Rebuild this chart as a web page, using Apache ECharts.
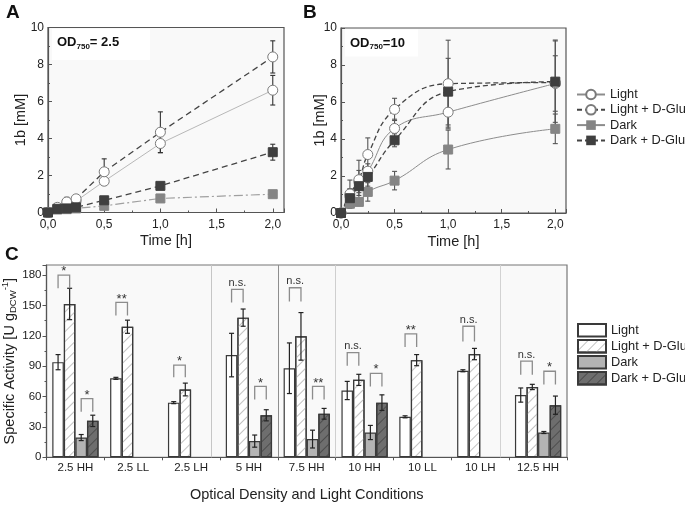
<!DOCTYPE html>
<html><head><meta charset="utf-8">
<script src="https://cdn.jsdelivr.net/npm/echarts@6/dist/echarts.min.js"></script>
<style>html,body{margin:0;padding:0;background:#fff}#chartTop,#chartBot{position:absolute;left:0;top:0;width:685px;height:505px}</style>
</head><body><div id="chartBot"></div><div id="chartTop"></div>
<script>
const FONT = '"Liberation Sans", Arial, sans-serif';
// ---------- Panels A and B: time courses ----------
const seriesNames = ['Light', 'Light + D-Glu', 'Dark', 'Dark + D-Glu'];
const timesH = [0, 0.083, 0.167, 0.25, 0.5, 1.0, 2.0];
const aLight = [0, 0.22, 0.45, 0.62, 1.69, 3.73, 6.61];
const aLightErr = [0, 0.05, 0.2, 0.1, 0.2, 0.5, 0.8];
const aLightGlu = [0, 0.28, 0.57, 0.74, 2.2, 4.34, 8.41];
const aLightGluErr = [0, 0.08, 0.25, 0.15, 0.7, 1.1, 0.87];
const aDark = [0, 0.16, 0.18, 0.22, 0.36, 0.76, 0.99];
const aDarkErr = [0, 0.03, 0.03, 0.03, 0.05, 0.05, 0.05];
const aDarkGlu = [0, 0.2, 0.22, 0.28, 0.66, 1.44, 3.26];
const aDarkGluErr = [0, 0.05, 0.05, 0.05, 0.1, 0.1, 0.43];
const bLight = [0, 0.9, 1.7, 2.26, 4.57, 5.45, 7.0];
const bLightErr = [0, 0.4, 0.6, 0.4, 0.5, 0.9, 1.5];
const bLightGlu = [0, 1.03, 1.8, 3.16, 5.6, 6.99, 7.05];
const bLightGluErr = [0, 0.75, 1.05, 0.9, 0.6, 2.35, 2.3];
const bDark = [0, 0.5, 0.6, 1.14, 1.75, 3.43, 4.55];
const bDarkErr = [0, 0.25, 0.2, 0.5, 0.5, 1.05, 0.8];
const bDarkGlu = [0, 0.8, 1.45, 1.95, 3.93, 6.56, 7.1];
const bDarkGluErr = [0, 0.5, 0.5, 0.5, 0.35, 1.8, 2.2];
const yTicksAB = [0, 2, 4, 6, 8, 10];
const xTicksAB = [0, 0.5, 1.0, 1.5, 2.0];

// ---------- Panel C: specific activity ----------
const categories = ['2.5 HH', '2.5 LL', '2.5 LH', '5 HH', '7.5 HH', '10 HH', '10 LL', '10 LH', '12.5 HH'];
const cLight = [94, 78, 54, 101, 88, 66, 40, 85.5, 61.5];
const cLightErr = [7.5, 1, 1, 21.5, 25, 9, 1, 1, 7];
const cLightGlu = [151.5, 129, 67, 138, 119.5, 76.5, 96, 102, 69.5];
const cLightGluErr = [15.5, 6.5, 6.3, 8.5, 23.5, 5.5, 5.5, 5.6, 2.6];
const cDark = [19.5, null, null, 16, 18, 24.5, null, null, 24.5];
const cDarkErr = [3, null, null, 6, 8.8, 7, null, null, 1];
const cDarkGlu = [36, null, null, 41.5, 43, 54, null, null, 51.5];
const cDarkGluErr = [5.6, null, null, 5.5, 5.3, 7.7, null, null, 9];
// significance brackets: category, first bar of the compared pair, bracket top, leg end, label
const sigCat = [0, 0, 1, 2, 3, 3, 4, 4, 5, 5, 6, 7, 8, 8];
const sigBar = [0, 2, 0, 0, 0, 2, 0, 2, 0, 2, 0, 0, 0, 2];
const sigTop = [180, 58, 153, 91, 166, 70, 167.5, 70, 103.5, 83, 122, 129.5, 95, 85];
const sigLeg = [167, 45, 140, 79, 153, 57, 154, 57, 90.5, 70, 109, 114.5, 81.6, 72];
const sigText = ['*', '*', '**', '*', 'n.s.', '*', 'n.s.', '**', 'n.s.', '*', '**', 'n.s.', 'n.s.', '*'];
const cYTicks = [0, 30, 60, 90, 120, 150, 180];

// ================= top chart (A, B) =================
const chartTop = echarts.init(document.getElementById('chartTop'), null, {renderer: 'canvas'});

function errSeries(xs, ys, es, color, gi) {
  return {
    type: 'custom', xAxisIndex: gi, yAxisIndex: gi, z: 1, silent: true,
    data: xs.map((x, i) => [x, ys[i], es[i]]),
    encode: {x: 0, y: 1},
    renderItem: (params, api) => {
      const x = api.value(0), y = api.value(1), e = api.value(2);
      if (!e) return;
      const p1 = api.coord([x, y + e]), p2 = api.coord([x, y - e]);
      const w = 2.5, st = {stroke: color, lineWidth: 1.1};
      return {type: 'group', children: [
        {type: 'line', shape: {x1: p1[0], y1: p1[1], x2: p2[0], y2: p2[1]}, style: st},
        {type: 'line', shape: {x1: p1[0] - w, y1: p1[1], x2: p1[0] + w, y2: p1[1]}, style: st},
        {type: 'line', shape: {x1: p2[0] - w, y1: p2[1], x2: p2[0] + w, y2: p2[1]}, style: st}
      ]};
    }
  };
}
const markerStyles = [
  {symbol: 'circle', symbolSize: 10, itemStyle: {color: '#fff', borderColor: '#7a7a7a', borderWidth: 1}},
  {symbol: 'circle', symbolSize: 10, itemStyle: {color: '#fff', borderColor: '#7a7a7a', borderWidth: 1}},
  {symbol: 'rect', symbolSize: 9, itemStyle: {color: '#858585', borderColor: '#858585'}},
  {symbol: 'rect', symbolSize: 9, itemStyle: {color: '#3f3f3f', borderColor: '#3f3f3f'}}
];
function lineSeries(idx, ys, gi, lineStyle, smooth) {
  return Object.assign({
    type: 'line', name: seriesNames[idx], xAxisIndex: gi, yAxisIndex: gi, z: 3,
    data: timesH.map((t, i) => [t, ys[i]]),
    lineStyle: lineStyle, smooth: smooth ? 0.45 : false
  }, markerStyles[idx]);
}
const bLines = [
  {color: '#8c8c8c', width: 1, type: 'solid'},
  {color: '#444', width: 1.3, type: [5, 3]},
  {color: '#8c8c8c', width: 1, type: 'solid'},
  {color: '#444', width: 1.3, type: [5, 3]}
];
const aLines = [
  {color: '#b8b8b8', width: 1, type: 'solid'},
  {color: '#444', width: 1.3, type: [6, 4]},
  {color: '#a0a0a0', width: 1.2, type: [9, 3, 2, 3]},
  {color: '#444', width: 1.3, type: [6, 4]}
];
const bData = [[bLight, bLightErr], [bLightGlu, bLightGluErr], [bDark, bDarkErr], [bDarkGlu, bDarkGluErr]];
const aData = [[aLight, aLightErr], [aLightGlu, aLightGluErr], [aDark, aDarkErr], [aDarkGlu, aDarkGluErr]];

const topSeries = [];
bData.forEach((d, i) => topSeries.push(lineSeries(i, d[0], 1, bLines[i], true)));
aData.forEach((d, i) => topSeries.push(lineSeries(i, d[0], 0, aLines[i], false)));
aData.forEach((d, i) => topSeries.push(errSeries(timesH, d[0], d[1], '#333', 0)));
bData.forEach((d, i) => topSeries.push(errSeries(timesH, d[0], d[1], '#555', 1)));

function xAxisAB(gi) {
  return {
    gridIndex: gi, type: 'value', min: xTicksAB[0], max: 2.1, interval: 0.5,
    axisLine: {lineStyle: {color: '#555', width: 1.2}},
    axisTick: {inside: true, length: 4, lineStyle: {color: '#555'}},
    minorTick: {show: true, splitNumber: 2, length: 2, lineStyle: {color: '#555'}},
    splitLine: {show: false},
    axisLabel: {fontFamily: FONT, fontSize: 12, color: '#222', margin: 6, showMaxLabel: false,
      formatter: v => v.toFixed(1).replace('.', ',')},
    name: 'Time [h]', nameLocation: 'middle', nameGap: 21, nameMoveOverlap: false,
    nameTextStyle: {fontFamily: FONT, fontSize: 14.5, color: '#222'}
  };
}
function yAxisAB(gi, gap) {
  return {
    gridIndex: gi, type: 'value', min: yTicksAB[0], max: yTicksAB[yTicksAB.length - 1], interval: 2,
    axisLine: {lineStyle: {color: '#555', width: 1.2}},
    axisTick: {inside: true, length: 4, lineStyle: {color: '#555'}},
    minorTick: {show: true, splitNumber: 2, length: 2, lineStyle: {color: '#555'}},
    splitLine: {show: false},
    axisLabel: {fontFamily: FONT, fontSize: 12, color: '#222', margin: 4},
    name: '1b [mM]', nameLocation: 'middle', nameGap: gap, nameMoveOverlap: false,
    nameTextStyle: {fontFamily: FONT, fontSize: 14.5, color: '#222'}
  };
}
function odLabel(x, y, w, h, val) {
  return [
    {type: 'rect', left: x, top: y, shape: {width: w, height: h}, style: {fill: '#fff'}, z: 5},
    {type: 'text', left: x + 5, top: y + 7, z: 6, style: {
      text: '{b|OD}{s|750}{b|' + val + '}',
      rich: {b: {fontFamily: FONT, fontWeight: 'bold', fontSize: 13, lineHeight: 16, fill: '#111'},
             s: {fontFamily: FONT, fontWeight: 'bold', fontSize: 8, lineHeight: 9, verticalAlign: 'bottom', fill: '#111'}}
    }}
  ];
}

chartTop.setOption({
  animation: false,
  grid: [
    {left: 48, top: 27.5, width: 236, height: 185, show: true, borderColor: '#555', borderWidth: 1.2, backgroundColor: '#f9f9f9', outerBoundsMode: 'none'},
    {left: 341, top: 28, width: 225, height: 185, show: true, borderColor: '#555', borderWidth: 1.2, backgroundColor: '#f9f9f9', outerBoundsMode: 'none'}
  ],
  xAxis: [xAxisAB(0), xAxisAB(1)],
  yAxis: [yAxisAB(0, 20), yAxisAB(1, 14)],
  legend: {
    data: seriesNames, orient: 'vertical', left: 576, top: 88, padding: 0,
    itemWidth: 28, itemHeight: 12, itemGap: 2.3,
    textStyle: {fontFamily: FONT, fontSize: 12.8, color: '#222'}
  },
  graphic: [
    {type: 'text', left: 6, top: 3, style: {text: 'A', font: 'bold 19px ' + FONT, fill: '#111'}},
    {type: 'text', left: 303, top: 3, style: {text: 'B', font: 'bold 19px ' + FONT, fill: '#111'}}
  ].concat(odLabel(52, 29, 98, 31, '= 2.5'), odLabel(345, 29.5, 73, 27, '=10')),
  series: topSeries
});

// ================= bottom chart (C) =================
const chartBot = echarts.init(document.getElementById('chartBot'), null, {renderer: 'canvas'});
const hatch = c => ({symbol: 'rect', symbolSize: 1, dashArrayX: [1, 0], dashArrayY: [1, 6], rotation: -Math.PI / 4, color: c});
const barStyles = [
  {color: '#ffffff', borderColor: '#3a3a3a', borderWidth: 1.2},
  {color: '#ffffff', borderColor: '#3a3a3a', borderWidth: 1.2, decal: hatch('#c2c2c2')},
  {color: '#b4b4b4', borderColor: '#3a3a3a', borderWidth: 1.2},
  {color: '#6e6e6e', borderColor: '#3a3a3a', borderWidth: 1.2, decal: hatch('#4c4c4c')}
];
const cVals = [cLight, cLightGlu, cDark, cDarkGlu];
const cErrs = [cLightErr, cLightGluErr, cDarkErr, cDarkGluErr];
const botSeries = [];
cVals.forEach((v, k) => botSeries.push({
  type: 'bar', name: seriesNames[k], data: v, barGap: '0%', barCategoryGap: '20%',
  itemStyle: barStyles[k], z: 2
}));
cVals.forEach((v, k) => botSeries.push({
  type: 'custom', silent: true, z: 4,
  data: categories.map((c, i) => [i, v[i], cErrs[k][i]]),
  encode: {x: 0, y: 1},
  renderItem: (params, api) => {
    const v0 = api.value(1), e = api.value(2);
    if (v0 == null || isNaN(v0) || isNaN(e)) return;
    const band = api.size([1, 0])[0];
    const p1 = api.coord([api.value(0), v0 + e]), p2 = api.coord([api.value(0), v0 - e]);
    const x = p1[0] + (-0.3 + 0.2 * k) * band, w = 2.5, st = {stroke: '#222', lineWidth: 1.2};
    return {type: 'group', children: [
      {type: 'line', shape: {x1: x, y1: p1[1], x2: x, y2: p2[1]}, style: st},
      {type: 'line', shape: {x1: x - w, y1: p1[1], x2: x + w, y2: p1[1]}, style: st},
      {type: 'line', shape: {x1: x - w, y1: p2[1], x2: x + w, y2: p2[1]}, style: st}
    ]};
  }
}));
botSeries.push({
  type: 'custom', silent: true, z: 5,
  data: sigCat.map((c, i) => [c, sigTop[i]]),
  encode: {x: 0, y: 1},
  renderItem: (params, api) => {
    const i = params.dataIndex;
    const band = api.size([1, 0])[0];
    const t = api.coord([sigCat[i], sigTop[i]]), b = api.coord([sigCat[i], sigLeg[i]]);
    const xL = t[0] + (-0.3 + 0.2 * sigBar[i]) * band, xR = xL + 0.2 * band;
    const isStar = sigText[i].indexOf('*') === 0;
    return {type: 'group', children: [
      {type: 'polyline', shape: {points: [[xL, b[1]], [xL, t[1]], [xR, t[1]], [xR, b[1]]]},
        style: {stroke: '#8c8c8c', lineWidth: 1.3, fill: null}},
      {type: 'text', x: (xL + xR) / 2, y: t[1] - (isStar ? -3 : 1),
        style: {text: sigText[i], align: 'center', verticalAlign: 'bottom',
          font: (isStar ? '13px ' : '11px ') + FONT, fill: '#333'}}
    ]};
  }
});
botSeries.push({
  type: 'line', xAxisIndex: 1, data: [], silent: true,
  markLine: {silent: true, symbol: ['none', 'none'], label: {show: false}, animation: false,
    data: [
      {xAxis: 2.85, lineStyle: {color: '#c6c6c6', width: 1, type: 'solid'}},
      {xAxis: 4, lineStyle: {color: '#8e8e8e', width: 1, type: 'solid'}},
      {xAxis: 5, lineStyle: {color: '#cfcfcf', width: 1, type: 'solid'}},
      {xAxis: 7.85, lineStyle: {color: '#d2d2d2', width: 1, type: 'solid'}}
    ]}
});

chartBot.setOption({
  animation: false,
  grid: {left: 46.5, top: 265, width: 520.5, height: 192.3, show: true, borderColor: '#777', borderWidth: 1.2, backgroundColor: '#f9f9f9', outerBoundsMode: 'none'},
  xAxis: [
    {type: 'category', data: categories,
      axisLine: {lineStyle: {color: '#555', width: 1.2}},
      axisTick: {show: true, length: 3, lineStyle: {color: '#555'}},
      axisLabel: {fontFamily: FONT, fontSize: 11.5, color: '#222', margin: 5},
      name: 'Optical Density and Light Conditions', nameLocation: 'middle', nameGap: 30, nameMoveOverlap: false,
      nameTextStyle: {fontFamily: FONT, fontSize: 14.5, color: '#222'}},
    {type: 'value', min: 0, max: categories.length, show: false}
  ],
  yAxis: {
    type: 'value', min: cYTicks[0], max: 190, interval: 30,
    axisLine: {show: true, lineStyle: {color: '#555', width: 1.2}},
    axisTick: {show: true, length: 4, lineStyle: {color: '#555'}},
    minorTick: {show: true, splitNumber: 2, length: 2, lineStyle: {color: '#555'}},
    splitLine: {show: false},
    axisLabel: {fontFamily: FONT, fontSize: 11.5, color: '#222', margin: 5, showMaxLabel: false},
    name: '{m|Specific Activity [U g}{s|DCW}{p|-1}{m|]}', nameLocation: 'middle', nameGap: 28, nameMoveOverlap: false,
    nameTextStyle: {fontFamily: FONT, fontSize: 14.5, color: '#222',
      rich: {m: {fontFamily: FONT, fontSize: 14.5, lineHeight: 18, color: '#222'},
             s: {fontFamily: FONT, fontSize: 9.5, lineHeight: 10, verticalAlign: 'bottom', color: '#222'},
             p: {fontFamily: FONT, fontSize: 9.5, lineHeight: 8, verticalAlign: 'top', color: '#222'}}}
  },
  legend: {
    data: seriesNames, orient: 'vertical', left: 577, top: 323, icon: 'rect', padding: 0,
    itemWidth: 28, itemHeight: 12.5, itemGap: 1.5,
    textStyle: {fontFamily: FONT, fontSize: 12.8, color: '#222'}
  },
  graphic: [
    {type: 'text', left: 5, top: 245, style: {text: 'C', font: 'bold 19px ' + FONT, fill: '#111'}}
  ],
  series: botSeries
});
</script></body></html>
